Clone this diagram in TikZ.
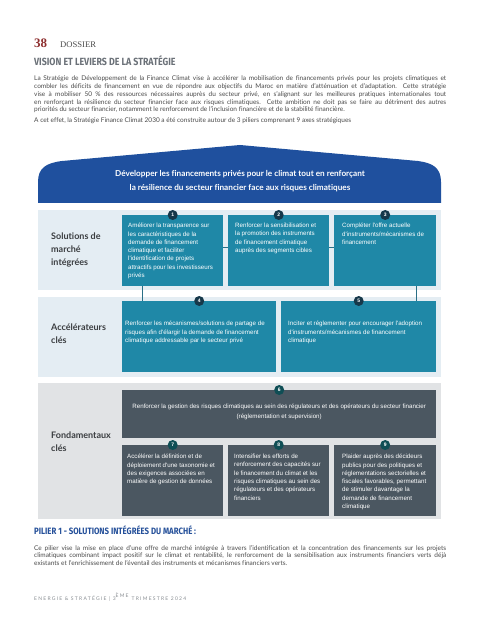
\documentclass[tikz,border=0pt]{standalone}
\usepackage{fontspec}
\setmainfont{Lato}[Ligatures={NoCommon}]
\newfontfamily\boxfont{Liberation Sans}
\newfontfamily\condfont[FakeStretch=0.85]{Fira Sans}
\newfontfamily\serifA{Liberation Serif}
\definecolor{roofc}{HTML}{1F509E}
\definecolor{paleblue}{HTML}{E4EDF3}
\definecolor{palegray}{HTML}{E1E3E5}
\definecolor{tealc}{HTML}{1F88A7}
\definecolor{slatec}{HTML}{4B5761}
\definecolor{numA}{HTML}{16384A}
\definecolor{numB}{HTML}{0F4E55}
\definecolor{linkc}{HTML}{2A6F86}
\definecolor{labelc}{HTML}{3A3D40}
\definecolor{bodyc}{HTML}{4A4A4A}
\definecolor{headc}{HTML}{6B7178}
\definecolor{pilierc}{HTML}{25509A}
\definecolor{redc}{HTML}{8E2F2F}
\begin{document}
\begin{tikzpicture}[x=1pt,y=-1pt,
  bandA/.style={fill=paleblue,draw=none},
  bandB/.style={fill=palegray,draw=none},
  boxA/.style={rectangle,fill=tealc,draw=none,inner sep=0pt,anchor=north west},
  boxB/.style={rectangle,fill=slatec,draw=none,inner sep=0pt,anchor=north west},
  numa/.style={circle,fill=numA,text=white,inner sep=0pt,minimum size=10pt,font=\boxfont\bfseries\fontsize{5}{5}\selectfont},
  numb/.style={numa,fill=numB},
  btxt/.style={anchor=north west,inner sep=0pt,text=white,align=left,font=\boxfont\fontsize{6.2}{8.3}\selectfont},
  lbl/.style={anchor=north west,inner sep=0pt,align=left,text=labelc,font=\bfseries\fontsize{9}{12.6}\selectfont},
  link/.style={draw=linkc,line width=0.8pt},
  para/.style={anchor=north west,inner sep=0pt,text width=412pt,align=justify,text=bodyc,font=\fontsize{6.5}{7.7}\selectfont}
]
\useasboundingbox (0,0) rectangle (480,617);
\fill[white] (0,0) rectangle (480,617);

% header
\node[anchor=base west,inner sep=0pt,text=redc,font=\serifA\bfseries\fontsize{13}{13}\selectfont] (pnum) at (34,48) {38};
\node[anchor=base west,inner sep=0pt,text=bodyc,font=\serifA\fontsize{8.6}{8.6}\selectfont] (doss) at (60,48) {DOSSIER};
\node[anchor=base west,inner sep=0pt,text=headc,font=\condfont\bfseries\fontsize{10.4}{10.4}\selectfont] (title) at (34,66) {VISION ET LEVIERS DE LA STRATÉGIE};

\node[para] (intro) at (34,76) {La Stratégie de Développement de la Finance Climat vise à accélérer la mobilisation de financements privés pour les projets climatiques et\linebreak
combler les déficits de financement en vue de répondre aux objectifs du Maroc en matière d'atténuation et d'adaptation. Cette stratégie\linebreak
vise à mobiliser 50 \% des ressources nécessaires auprès du secteur privé, en s'alignant sur les meilleures pratiques internationales tout\linebreak
en renforçant la résilience du secteur financier face aux risques climatiques. Cette ambition ne doit pas se faire au détriment des autres\linebreak
priorités du secteur financier, notamment le renforcement de l'inclusion financière et de la stabilité financière.};
\node[anchor=north west,inner sep=0pt,text=bodyc,font=\fontsize{6.5}{7.7}\selectfont] (effet) at (34,118) {A cet effet, la Stratégie Finance Climat 2030 a été construite autour de 3 piliers comprenant 9 axes stratégiques};

% roof
\fill[roofc] (38,203) -- (38,182) .. controls (38,168) and (46,163) .. (62,161) -- (240,145) -- (418,161) .. controls (433,163) and (441,168) .. (441,182) -- (441,203) -- cycle;
\node[anchor=center,inner sep=0pt,text=white,align=center,font=\bfseries\fontsize{8.2}{14}\selectfont] (rooftxt) at (240,181) {Développer les financements privés pour le climat tout en renforçant\\la résilience du secteur financier face aux risques climatiques};

% bands
\fill[bandA] (38,210) rectangle (441,290);
\fill[bandA] (38,297) rectangle (441,377);
\fill[bandB] (38,383) rectangle (441,519);

\node[lbl] (l1) at (51,233) {Solutions de\\marché\\intégrées};
\node[lbl] (l2) at (51,324) {Accélérateurs\\clés};
\node[lbl] (l3) at (51,432) {Fondamentaux\\clés};

% row 1
\node[boxA,minimum width=101pt,minimum height=71pt] (b1) at (122,215) {};
\node[boxA,minimum width=101pt,minimum height=71pt] (b2) at (228,215) {};
\node[boxA,minimum width=102pt,minimum height=71pt] (b3) at (334,215) {};
% row 2
\node[boxA,minimum width=154pt,minimum height=71pt] (b4) at (122,301) {};
\node[boxA,minimum width=155pt,minimum height=71pt] (b5) at (281,301) {};
% row 3
\node[boxB,minimum width=314pt,minimum height=48pt] (b6) at (122,390) {};
\node[boxB,minimum width=101pt,minimum height=71pt] (b7) at (122,445) {};
\node[boxB,minimum width=101pt,minimum height=71pt] (b8) at (228,445) {};
\node[boxB,minimum width=102pt,minimum height=71pt] (b9) at (334,445) {};

% connectors
\draw[link] ([yshift=3.5pt]b1.east) -- ([yshift=3.5pt]b2.west);
\draw[link] ([yshift=3.5pt]b2.east) -- ([yshift=3.5pt]b3.west);
\draw[link] ([xshift=20pt]b1.south west) -- ([xshift=20pt]b4.north west);
\draw[link] ([xshift=-20pt]b3.south east) -- ([xshift=-20pt]b5.north east);

% texts
\node[btxt] (t1) at (128,223) {Améliorer la transparence sur\\les caractéristiques de la\\demande de financement\\climatique et faciliter\\l'identification de projets\\attractifs pour les investisseurs\\privés};
\node[btxt] (t2) at (235,223) {Renforcer la sensibilisation et\\la promotion des instruments\\de financement climatique\\auprès des segments cibles};
\node[btxt] (t3) at (342,223) {Compléter l'offre actuelle\\d'instruments/mécanismes de\\financement};
\node[btxt] (t4) at (125,321) {Renforcer les mécanismes/solutions de partage de\\risques afin d'élargir la demande de financement\\climatique addressable par le secteur privé};
\node[btxt] (t5) at (288,321) {Inciter et réglementer pour encourager l'adoption\\d'instruments/mécanismes de financement\\climatique};
\node[btxt,anchor=center,align=center,font=\boxfont\fontsize{6.2}{10}\selectfont] (t6) at ([yshift=2pt]b6.center) {Renforcer la gestion des risques climatiques au sein des régulateurs et des opérateurs du secteur financier\\(réglementation et supervision)};
\node[btxt] (t7) at (127,454) {Accélérer la définition et de\\déploiement d'une taxonomie et\\des exigences associées en\\matière de gestion de données};
\node[btxt] (t8) at (234,454) {Intensifier les efforts de\\renforcement des capacités sur\\le financement du climat et les\\risques climatiques au sein des\\régulateurs et des opérateurs\\financiers};
\node[btxt] (t9) at (342,454) {Plaider auprès des décideurs\\publics pour des politiques et\\réglementations sectorielles et\\fiscales favorables, permettant\\de stimuler davantage la\\demande de financement\\climatique};

% numbers
\node[numa] (n1) at (b1.north) {1};
\node[numa] (n2) at (b2.north) {2};
\node[numa] (n3) at (b3.north) {3};
\node[numa] (n4) at (b4.north) {4};
\node[numa] (n5) at (b5.north) {5};
\node[numb] (n6) at (b6.north) {6};
\node[numb] (n7) at (b7.north) {7};
\node[numb] (n8) at (b8.north) {8};
\node[numb] (n9) at (b9.north) {9};

% pilier
\node[anchor=base west,inner sep=0pt,text=pilierc,font=\condfont\bfseries\fontsize{9.2}{9.2}\selectfont] (pilier) at (34,534) {PILIER 1 - SOLUTIONS INTÉGRÉES DU MARCHÉ :};
\node[para] (ptxt) at (34,545) {Ce pilier vise la mise en place d'une offre de marché intégrée à travers l'identification et la concentration des financements sur les projets\linebreak
climatiques combinant impact positif sur le climat et rentabilité, le renforcement de la sensibilisation aux instruments financiers verts déjà\linebreak
existants et l'enrichissement de l'éventail des instruments et mécanismes financiers verts.};

% footer
\node[anchor=base west,inner sep=0pt,text=headc!80,font=\fontsize{5}{5}\selectfont\addfontfeatures{LetterSpace=25}] (foot) at (34,600) {ENERGIE \& STRATÉGIE | 3\textsuperscript{ÈME} TRIMESTRE 2024};
\end{tikzpicture}
\end{document}
